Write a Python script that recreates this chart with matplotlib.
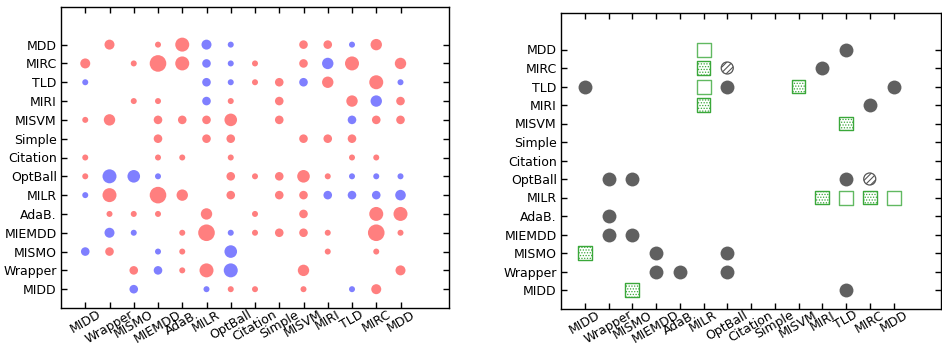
import numpy as np
import matplotlib
matplotlib.use("Agg")
import matplotlib.pyplot as plt

methods = ["MIDD", "Wrapper", "MISMO", "MIEMDD", "AdaB.", "MILR", "OptBall",
           "Citation", "Simple", "MISVM", "MIRI", "TLD", "MIRC", "MDD"]

# Signed bubble scores (rows listed from MDD at the top down to MIDD).
# Positive = red, negative = blue, magnitude = bubble radius.
bubble_rows = {
    "MDD":      [0, 5, 0, 3, 7, -5, -3, 0, 0, 4.3, 4.3, -3, 5.7, 0],
    "MIRC":     [5, 0, 3, 8.3, 7, -4.3, -3, 3, 0, 4.3, -5.7, 7, 0, 5.7],
    "TLD":      [-3, 0, 0, 0, 0, -4.3, -3, 3, 4.3, -4.3, 5.7, 0, 7, -3],
    "MIRI":     [0, 0, 3, 3, 0, -4.3, 3, 0, 4.3, 0, 0, 5.7, -5.7, 4.3],
    "MISVM":    [3, 5.7, 0, 4.3, 4.3, 4.3, 6.3, 0, 4.3, 0, 0, -4.3, 4.3, 4.3],
    "Simple":   [0, 0, 0, 4.3, 0, 4.3, 4.3, 0, 0, 4.3, 4.3, 4.3, 0, 0],
    "Citation": [3, 0, 0, 3, 3, 0, 3, 0, 0, 0, 0, 3, 3, 0],
    "OptBall":  [3, -7, -6.3, -3, 0, 0, 4.3, 3, 4.3, 6.3, 3, -3, -3, -3],
    "MILR":     [-3, 7, 0, 8.3, 5.7, 0, 4.3, 0, 4.3, 4.3, -4.3, -4.3, -4.3, -5.3],
    "AdaB.":    [0, 3, 3, 3, 0, 5.7, 0, 3, 0, 4.3, 0, 0, 7, 7],
    "MIEMDD":   [0, -5, -3, 0, 3, 8.3, -3, 3, 4.3, 4.3, 3, 0, 8.3, 3],
    "MISMO":    [-4.3, 4.3, 0, -3, 3, 0, -6.3, 0, 0, 0, 3, 0, 3, 0],
    "Wrapper":  [0, 0, 4.3, -4.3, 3, 7, -7, 0, 0, 5.7, 0, 0, 0, 5],
    "MIDD":     [0, 0, -4.3, 0, 0, -3, 3, 3, 0, 3, 0, -3, 5, 0],
}

# Pairwise outcome markers: (column method, row method)
solid_circles = [("TLD", "MDD"), ("MIRI", "MIRC"), ("MIDD", "TLD"), ("OptBall", "TLD"),
                 ("MDD", "TLD"), ("MIRC", "MIRI"), ("Wrapper", "OptBall"),
                 ("MISMO", "OptBall"), ("TLD", "OptBall"), ("Wrapper", "AdaB."),
                 ("Wrapper", "MIEMDD"), ("MISMO", "MIEMDD"), ("MIEMDD", "MISMO"),
                 ("OptBall", "MISMO"), ("MIEMDD", "Wrapper"), ("AdaB.", "Wrapper"),
                 ("OptBall", "Wrapper"), ("TLD", "MIDD")]
hatched_circles = [("OptBall", "MIRC"), ("MIRC", "OptBall")]
open_squares = [("MILR", "MDD"), ("MILR", "TLD"), ("TLD", "MILR"), ("MDD", "MILR")]
dotted_squares = [("MILR", "MIRC"), ("MILR", "MIRI"), ("MISVM", "TLD"), ("TLD", "MISVM"),
                  ("MIRI", "MILR"), ("MIRC", "MILR"), ("MIDD", "MISMO"), ("MISMO", "MIDD")]

idx = {m: i for i, m in enumerate(methods)}
fig = plt.figure(figsize=(9.42, 3.45), dpi=100)
plt.rcParams["font.family"] = ["DejaVu Sans"]


def style_axes(ax):
    ax.set_xlim(-1, 15)
    ax.set_ylim(-1, 15)
    ax.set_xticks(range(len(methods)))
    ax.set_yticks(range(len(methods)))
    ax.set_xticklabels(methods, rotation=30, ha="center", fontsize=9)
    ax.set_yticklabels(methods, fontsize=9)
    ax.tick_params(direction="in", top=True, right=True, length=4, width=1, pad=3)
    ax.tick_params(axis="x", pad=0)
    for sp in ax.spines.values():
        sp.set_linewidth(1.0)


# Left: bubble matrix
ax1 = fig.add_axes([61 / 942, 1 - 308 / 345, 388 / 942, 301 / 345])
xs, ys, ss, cs = [], [], [], []
for name, vals in bubble_rows.items():
    for j, v in enumerate(vals):
        if v == 0:
            continue
        xs.append(j)
        ys.append(idx[name])
        ss.append((2 * abs(v) * 0.72) ** 2)
        cs.append("red" if v > 0 else "blue")
ax1.scatter(xs, ys, s=ss, c=cs, alpha=0.5, linewidths=0)
style_axes(ax1)

# Right: pairwise outcome markers
ax2 = fig.add_axes([561 / 942, 1 - 308.5 / 345, 380 / 942, 296 / 345])


def pts(pairs):
    return [idx[a] for a, b in pairs], [idx[b] for a, b in pairs]


x, y = pts(solid_circles)
ax2.scatter(x, y, s=100, c="#606060", linewidths=0, zorder=3)

with plt.rc_context({"hatch.color": "#555555", "hatch.linewidth": 0.8}):
    x, y = pts(hatched_circles)
    ax2.scatter(x, y, s=75, facecolors="white", edgecolors="#555555",
                linewidths=0.9, hatch="//////", zorder=3)

green = "#3aa83a"
x, y = pts(open_squares)
ax2.scatter(x, y, s=95, marker="s", facecolors="white", edgecolors=green,
            linewidths=1.0, alpha=0.8, zorder=3)

with plt.rc_context({"hatch.color": green, "hatch.linewidth": 0.6}):
    x, y = pts(dotted_squares)
    ax2.scatter(x, y, s=95, marker="s", facecolors="white", edgecolors=green,
                linewidths=1.0, hatch="......", zorder=3)

style_axes(ax2)

fig.savefig("out.png", dpi=100)
